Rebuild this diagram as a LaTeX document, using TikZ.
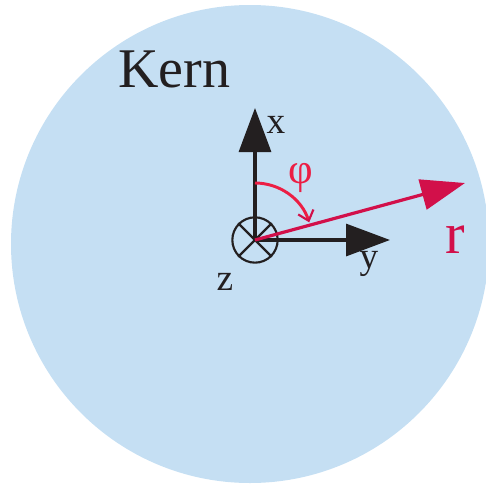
\documentclass[tikz,border=0pt]{standalone}
\usepackage{fontspec}
\setmainfont{Liberation Serif}
\usetikzlibrary{arrows.meta}
\definecolor{kernblue}{RGB}{197,223,243}
\definecolor{vecred}{RGB}{210,16,74}
\definecolor{arcred}{RGB}{236,30,68}
\tikzset{every picture/.style={line width=0.75pt},
  axis/.style={draw={rgb,255:red,35;green,31;blue,32},line width=2.4pt,-{Triangle[length=33pt,width=24pt]}},
  radvec/.style={draw=vecred,line width=2.4pt,-{Triangle[length=33pt,width=23pt]}},
  anglearc/.style={draw=arcred,line width=2.2pt,-{Straight Barb[length=7pt,width=12pt,line width=1.6pt,color=vecred]}},
  lbl/.style={anchor=base,inner sep=0pt,text={rgb,255:red,35;green,31;blue,32}}}

\begin{document}
\begin{tikzpicture}[x=0.75pt,y=0.75pt,yscale=-1,xscale=1]
\useasboundingbox (0,0) rectangle (486,490);

%Shape: Circle [id:kern]
\fill [kernblue] (250,244) circle [radius=239];

% origin and axis ends
\coordinate (O) at (255,240);
\coordinate (xend) at (255,108);
\coordinate (yend) at (390,240);
\coordinate (rend) at (465,183);

%Straight Lines [id:xaxis]
\draw [axis] (O) -- (xend);
%Straight Lines [id:yaxis]
\draw [axis] (O) -- (yend);

%Shape: Circle [id:zaxis]
\node (zdot) [circle,draw={rgb,255:red,35;green,31;blue,32},line width=1.6pt,minimum size=34,inner sep=0pt] at (O) {};
\draw [line width=1.6pt,draw={rgb,255:red,35;green,31;blue,32}] (zdot.north west) -- (zdot.south east) (zdot.north east) -- (zdot.south west);

%Straight Lines [id:rvec]
\draw [radvec] (O) -- (rend);

%Curve Lines [id:phiarc]
\draw [anglearc] (O) ++(-90:57) arc [start angle=-90,end angle=-18,radius=57];

% Text Node
\node (kern) [anchor=base west,inner sep=0pt,font=\fontsize{42}{42}\selectfont,text={rgb,255:red,35;green,31;blue,32}] at (118,87) {Kern};
% Text Node
\node (xlbl) [lbl,font=\fontsize{28}{28}\selectfont] at (276,133) {x};
% Text Node
\node (ylbl) [lbl,font=\fontsize{28}{28}\selectfont] at (369,268) {y};
% Text Node
\node (zlbl) [lbl,font=\fontsize{28}{28}\selectfont] at (225,290) {z};
% Text Node
\node (rlbl) [anchor=base,inner sep=0pt,font=\fontsize{44}{44}\selectfont,text=vecred] at (455,253) {r};
% Text Node
\node (philbl) [inner sep=0pt,font=\fontsize{32}{32}\selectfont,text=arcred] at (301,178) {φ};

\end{tikzpicture}
\end{document}
